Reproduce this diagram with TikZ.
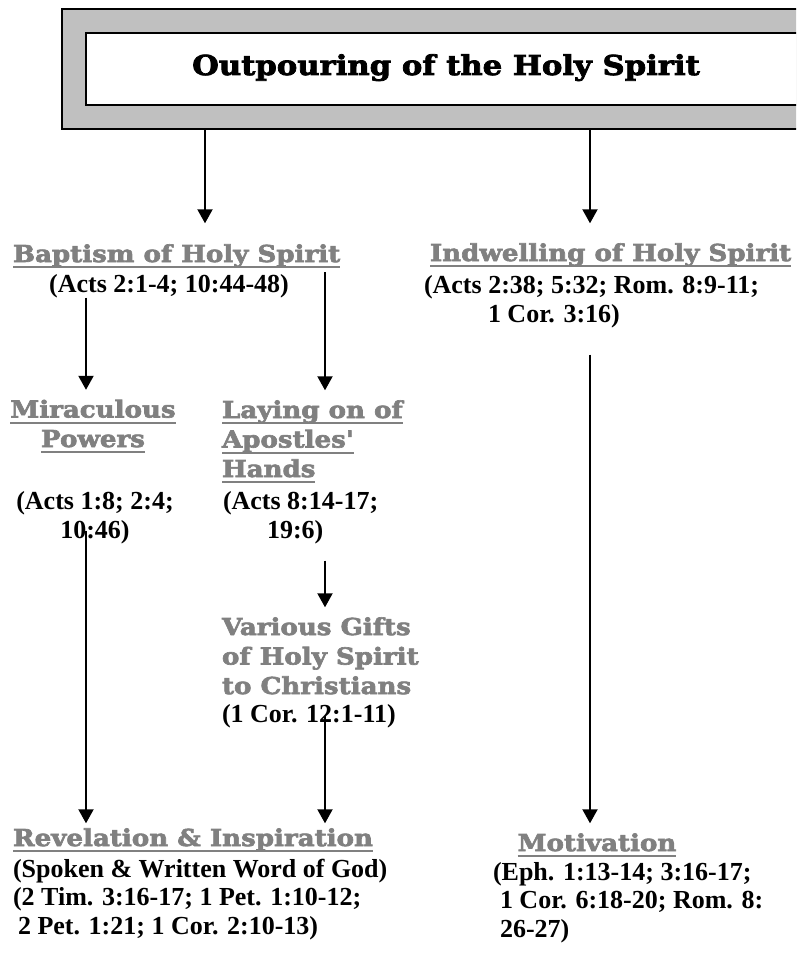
\documentclass[tikz,border=0pt]{standalone}
\usepackage{fontspec}
\setmainfont{Liberation Serif}
\newfontfamily\hdfont{DejaVu Serif}[FakeStretch=1.12, FakeBold=2.8, Ligatures=TeXOff]
\usepackage{tikz}
\usetikzlibrary{arrows.meta,positioning}
\definecolor{framegray}{RGB}{192,192,192}
\definecolor{hdgray}{RGB}{128,128,128}
% underline in the colour of the heading
\newcommand\ul[1]{\setbox0=\hbox{#1}\rlap{\vrule width\wd0 height-4pt depth6pt}\box0}

\begin{document}
\begin{tikzpicture}[x=1pt, y=-1pt,
	hd/.style={font=\hdfont\bfseries\fontsize{23.3}{29.5}\selectfont, text=hdgray, inner sep=0pt, outer sep=0pt},
	ref/.style={font=\bfseries\fontsize{26}{28.5}\selectfont, inner sep=0pt, outer sep=0pt},
	arr/.style={line width=2pt, -{Triangle[width=15pt,length=14pt]}}]
	\useasboundingbox (0,0) rectangle (796,955);
	\clip (0,0) rectangle (796,955);

	% title frame
	\node (frame) at (61,8) [draw, line width=2pt, fill=framegray, anchor=north west, minimum width=760pt, minimum height=120pt] {};
	\node (titlebox) at (85,32) [draw, line width=2pt, fill=white, anchor=north west, minimum width=740pt, minimum height=72pt] {};
	\node (title) at (446,75) [hd, text=black, anchor=base, font=\hdfont\bfseries\fontsize{27.4}{30}\selectfont] {Outpouring of the Holy Spirit};

	\coordinate (x1) at (86,0);
	\coordinate (x2) at (205,0);
	\coordinate (x3) at (325,0);
	\coordinate (x4) at (590,0);

	% multi-line nodes sit on the baseline of their last line
	\node (bap) at (13,262) [hd, anchor=base west] {\ul{Baptism of Holy Spirit}};
	\node (bapref) at (169,292) [ref, anchor=base] {(Acts 2:1-4; 10:44-48)};
	\node (ind) at (430,261) [hd, anchor=base west] {\ul{Indwelling of Holy Spirit}};
	\node (indref) at (424,322) [ref, anchor=base west, align=left] {(Acts 2:38; 5:32; Rom. 8:9-11;\\\hspace*{64pt}1 Cor. 3:16)};

	\node (mir) at (93,447) [hd, anchor=base, align=center] {\ul{Miraculous}\\\ul{Powers}};
	\node (mirref) at (95,538) [ref, anchor=base, align=center] {(Acts 1:8; 2:4;\\10:46)};
	\node (lay) at (222,477) [hd, anchor=base west, align=left] {\ul{Laying on of}\\\ul{Apostles'}\\\ul{Hands}};
	\node (layref) at (223,538) [ref, anchor=base west, align=left] {(Acts 8:14-17;\\\hspace*{44pt}19:6)};

	\node (gifts) at (222,694) [hd, anchor=base west, align=left] {Various Gifts\\of Holy Spirit\\to Christians};
	\node (giftref) at (222,722) [ref, anchor=base west] {(1 Cor. 12:1-11)};

	\node (rev) at (13,846) [hd, anchor=base west] {\ul{Revelation \& Inspiration}};
	\node (revref) at (13,934) [ref, anchor=base west, align=left] {(Spoken \& Written Word of God)\\(2 Tim. 3:16-17; 1 Pet. 1:10-12;\\\hspace*{5pt}2 Pet. 1:21; 1 Cor. 2:10-13)};
	\node (mot) at (597,851) [hd, anchor=base] {\ul{Motivation}};
	\node (motref) at (493,937) [ref, anchor=base west, align=left] {(Eph. 1:13-14; 3:16-17;\\\hspace*{7pt}1 Cor. 6:18-20; Rom. 8:\\\hspace*{7pt}26-27)};

	\draw [arr, shorten >=21pt] (frame.south -| x2) -- (bap.north -| x2);
	\draw [arr, shorten >=20pt] (frame.south -| x4) -- (ind.north -| x4);
	\draw [arr, shorten >=10pt] (bapref.south -| x1) -- (mir.north -| x1);
	\draw [arr, shorten <=4pt, shorten >=10pt] (bap.south -| x3) -- (lay.north -| x3);
	\draw [arr, shorten <=-13pt, shorten >=5pt] (mirref.south -| x1) -- (rev.north -| x1);
	\draw [arr, shorten <=17pt, shorten >=10pt] (layref.south -| x3) -- (gifts.north -| x3);
	\draw [arr, shorten >=5pt] (giftref.center -| x3) -- (rev.north -| x3);
	\draw [arr, shorten <=27pt, shorten >=10pt] (indref.south -| x4) -- (mot.north -| x4);
\end{tikzpicture}
\end{document}
